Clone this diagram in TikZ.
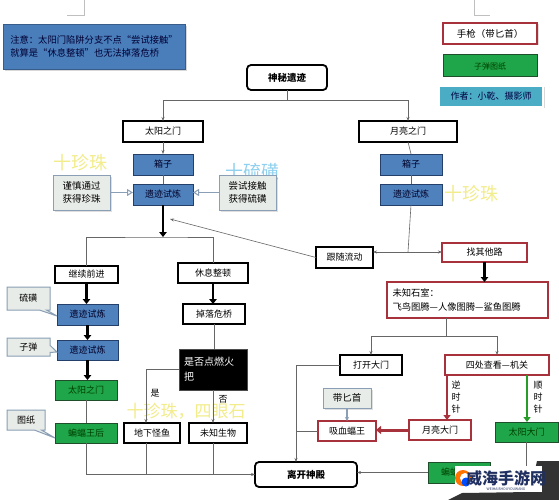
\documentclass[tikz,border=0pt]{standalone}
\usepackage{fontspec}
\setmainfont{Noto Sans CJK SC}
\usetikzlibrary{arrows.meta,shapes.callouts,shadows}
\definecolor{noteblue}{HTML}{4A7EBB}
\definecolor{noteline}{HTML}{385D8A}
\definecolor{boxblue}{HTML}{4F81BD}
\definecolor{boxline}{HTML}{24406A}
\definecolor{gfill}{HTML}{1FA64A}
\definecolor{gline}{HTML}{1E4E2A}
\definecolor{rline}{HTML}{A8323C}
\definecolor{cfill}{HTML}{E8ECE8}
\definecolor{cline}{HTML}{8A9FB5}
\definecolor{lblue}{HTML}{4BACC6}
\definecolor{pyellow}{HTML}{F2EC8A}
\definecolor{pcyan}{HTML}{8ED0EE}
\definecolor{wmblue}{HTML}{1F2F5F}
\newcommand\mkbox[7]{\node[#6, minimum width={(#4-#2)*1pt}, minimum height={(#5-#3)*1pt}] (#1) at ({(#2+#4)/2},{(#3+#5)/2}) {#7};}
\begin{document}
\begin{tikzpicture}[x=1pt,y=-1pt,
  base/.style={draw, inner sep=0pt, outer sep=0pt, font=\fontsize{9}{11}\selectfont, align=center},
  wbox/.style={base, fill=white, line width=1.2pt},
  wthick/.style={base, fill=white, line width=1.8pt},
  blbox/.style={base, fill=boxblue, draw=boxline, line width=1pt, text=black!85!blue},
  grbox/.style={base, fill=gfill, draw=gline, line width=1pt, text=green!25!black},
  rdbox/.style={base, fill=white, draw=rline, line width=1.3pt},
  cbox/.style={base, fill=cfill, draw=cline, line width=1pt, drop shadow={opacity=0.25, shadow xshift=1.5pt, shadow yshift=-1.5pt}},
  clout/.style={base, rectangle callout, fill=cfill, draw=cline, line width=1pt},
  ttl/.style={base, fill=white, line width=1.8pt, rounded corners=4pt, font=\fontsize{9.5}{11}\selectfont\bfseries},
  ln/.style={draw=black!60, line width=0.6pt},
  arr/.style={-{Stealth[length=4pt,width=3pt]}},
  thk/.style={draw=black, line width=2.6pt, -{Triangle[length=5pt,width=7.5pt]}},
  opena/.style={draw=cline, line width=1.3pt, -{Triangle[open,length=6pt,width=7pt,line width=1pt]}},
  bigtxt/.style={font=\fontsize{18}{19}\selectfont, inner sep=0pt},
  lbl/.style={font=\fontsize{9}{12}\selectfont, inner sep=0pt, align=center}]
\useasboundingbox[fill=white] (0,0) rectangle (559,500);
% fragments at top
\draw[black!25, line width=0.6pt] (67,15) -- (84,15) -- (84,0);
\draw[black!25, line width=0.6pt] (474,0) -- (474,15) -- (490,15);
% faint background texts
\node[bigtxt, text=pyellow] (ty1) at (80,163) {十珍珠};
\node[bigtxt, text=pcyan] (tc1) at (252,172) {十硫磺};
\node[bigtxt, text=pyellow] (ty2) at (471,194) {十珍珠};
\node[bigtxt, text=pyellow, font=\fontsize{17}{18}\selectfont] (ty3) at (186,411) {十珍珠，四眼石};
% note
\mkbox{note}{3}{24}{185}{69}{base, fill=noteblue, draw=noteline, line width=0.8pt, text=black!80!blue, align=left, font=\fontsize{9.3}{13}\selectfont, drop shadow={opacity=0.3, shadow xshift=2pt, shadow yshift=-2pt}}{注意：太阳门陷阱分支不点“尝试接触”\\就算是“休息整顿”也无法掉落危桥}
% legend
\mkbox{gun}{443}{23}{537}{44}{base, fill=white, draw=rline, line width=1.3pt, font=\fontsize{9.5}{11}\selectfont, drop shadow={opacity=0.25, shadow xshift=1.5pt, shadow yshift=-1.5pt}}{手枪（带匕首）}
\mkbox{bul}{443}{55}{537}{77}{grbox, font=\fontsize{8}{10}\selectfont}{子弹图纸}
\mkbox{auth}{439}{86}{543}{107}{base, fill=lblue, draw=white, line width=1.5pt, text=black!75!blue, font=\fontsize{9}{11}\selectfont, drop shadow={opacity=0.3, shadow xshift=1.5pt, shadow yshift=-1.5pt}}{作者：小乾、摄影师}
% main boxes
\mkbox{mys}{247}{65}{327}{90}{ttl}{神秘遗迹}
\mkbox{sun}{123}{121}{203}{142}{wbox}{太阳之门}
\mkbox{moon}{359}{121}{457}{142}{wthick}{月亮之门}
\mkbox{box1}{133}{154}{193}{175}{blbox}{箱子}
\mkbox{tr1}{133}{184}{193}{205}{blbox}{遗迹试炼}
\mkbox{box2}{380}{154}{442}{175}{blbox}{箱子}
\mkbox{tr2}{380}{184}{442}{205}{blbox}{遗迹试炼}
\mkbox{nl}{53}{175}{110}{210}{cbox, font=\fontsize{9.5}{13}\selectfont}{谨慎通过\\获得珍珠}
\mkbox{nr}{219}{175}{276}{210}{cbox, font=\fontsize{9.5}{13}\selectfont}{尝试接触\\获得硫磺}
\mkbox{cont}{55}{266}{118}{283}{wbox}{继续前进}
\mkbox{rest}{178}{263}{248}{283}{wbox}{休息整顿}
\mkbox{follow}{316}{247}{373}{268}{wbox}{跟随流动}
\mkbox{other}{442}{243}{527}{262}{rdbox}{找其他路}
\mkbox{room}{387}{282}{548}{318}{rdbox, align=left, text width=150pt, inner xsep=5.5pt, font=\fontsize{9.3}{14}\selectfont}{未知石室：\\飞鸟图腾—人像图腾—鲨鱼图腾}
\mkbox{open}{340}{355}{402}{375}{base, fill=white, line width=1.6pt}{打开大门}
\mkbox{look}{445}{355}{549}{375}{rdbox}{四处查看—机关}
\mkbox{mdoor}{409}{420}{471}{440}{rdbox}{月亮大门}
\mkbox{vamp}{318}{421}{376}{441}{rdbox}{吸血蝠王}
\mkbox{dagger}{323}{388}{371}{408}{cbox, font=\fontsize{9.5}{11}\selectfont}{带匕首}
\mkbox{sdoor}{495}{422}{558}{442}{grbox}{太阳大门}
\mkbox{bq}{428}{462}{490}{483}{grbox}{蝙蝠王后}
\mkbox{exit}{255}{462}{357}{487}{ttl}{离开神殿}
\mkbox{lt1}{57}{304}{118}{325}{blbox}{遗迹试炼}
\mkbox{lt2}{57}{340}{118}{360}{blbox}{遗迹试炼}
\mkbox{gsun}{55}{380}{117}{400}{grbox}{太阳之门}
\mkbox{gbat}{55}{423}{117}{443}{grbox}{蝙蝠王后}
\mkbox{fall}{183}{304}{245}{324}{wbox}{掉落危桥}
\mkbox{torch}{179}{349}{247}{390}{base, fill=black, draw=black!70, text=white, align=left, text width=58pt, inner xsep=5pt, font=\fontsize{10}{15}\selectfont}{是否点燃火\\把}
\mkbox{fish}{124}{423}{180}{443}{base, fill=white, line width=1.6pt}{地下怪鱼}
\mkbox{unk}{189}{423}{247}{443}{base, fill=white, line width=1.6pt}{未知生物}
% callouts
\mkbox{c1}{7}{287}{50}{310}{clout, callout absolute pointer={(57,316)}}{硫磺}
\mkbox{c2}{7}{338}{50}{356}{clout, callout absolute pointer={(57,352)}}{子弹}
\mkbox{c3}{7}{410}{45}{430}{clout, callout absolute pointer={(55,438)}}{图纸}
% connectors top
\coordinate (j1) at (287,100);
\draw[ln] (mys.south) -- (j1);
\draw[ln,arr] (j1) -| (sun.north);
\draw[ln,arr] (j1) -| (moon.north);
\draw[ln,arr] (sun.south) -- (box1.north);
\draw[ln] (box1.south) -- (tr1.north);
\draw[opena] (nl.east) -- (nl.east -| tr1.west);
\draw[opena] (nr.west) -- (nr.west -| tr1.east);
\coordinate (j2) at (163,237);
\draw[thk] (tr1.south) -- (j2);
\draw[ln] (cont.north) |- (j2) -| (rest.north);
\coordinate (fa) at (170,219);
\draw[ln,arr] (follow.west) -- (fa);
% moon column
\draw[ln] (moon.south) -- (box2.north);
\draw[ln] (box2.south) -- (tr2.north);
\coordinate (j3) at (408,252);
\draw[ln] (tr2.south) -- (j3);
\draw[ln,arr] (j3) -- (j3 -| follow.east);
\draw[ln,arr] (j3) -- (j3 -| other.west);
\draw[thk] (other.south) -- (other.south |- room.north);
\coordinate (j4) at (446,336);
\draw[ln] (j4 |- room.south) -- (j4);
\draw[ln,arr] (j4) -| (open.north);
\draw[ln,arr] (j4) -| (look.north);
% right lower
\draw[draw=rline, line width=2.6pt, -{Triangle[length=5pt,width=7pt]}] ([xshift=2pt]look.south west) -- ([xshift=2pt]look.south west |- mdoor.north);
\draw[draw=green!55!black!85, line width=2.6pt, -{Triangle[length=5pt,width=7pt]}] ([xshift=-22pt]look.south east) -- ([xshift=-22pt]look.south east |- sdoor.north);
\node[lbl] (lab1) at (456,397) {逆\\时\\针};
\node[lbl] (lab2) at (538,397) {顺\\时\\针};
\draw[draw=rline, line width=3pt, -{Triangle[length=5pt,width=8pt]}] (mdoor.west) -- (mdoor.west -| vamp.east);
\draw[draw=cline, line width=1.2pt, -{Stealth[length=4pt,width=4pt]}] (dagger.south) -- (dagger.south |- vamp.north);
\coordinate (j5) at (296,431);
\draw[ln] (vamp.west) -- (vamp.west -| j5);
\draw[ln,arr] (open.west) -| ([xshift=-10pt]exit.north);
\draw[ln] (sdoor.south) |- (bq.east);
\draw[ln,arr] (bq.west) -- (bq.west -| exit.east);
% left column
\draw[thk] (cont.south) -- (cont.south |- lt1.north);
\draw[thk] (lt1.south) -- (lt1.south |- lt2.north);
\draw[thk] (lt2.south) -- (lt2.south |- gsun.north);
\draw[ln] (gsun.south) -- (gbat.north);
\draw[ln,arr] (gbat.south) |- (exit.west);
\draw[thk] (rest.south) -- (rest.south |- fall.north);
\draw[ln] (fall.south) -- (fall.south |- torch.north);
\draw[ln,arr] (torch.west) -| ([xshift=-6pt]fish.north);
\draw[ln,arr] (torch.south) -- (torch.south |- unk.north);
\node[lbl] (yes) at (155,393) {是};
\node[lbl] (no) at (223,399) {否};
\draw[ln] ([xshift=-6pt]fish.south) -- ([xshift=-6pt]fish.south |- exit.west);
\draw[ln] ([xshift=-5pt]unk.south) -- ([xshift=-5pt]unk.south |- exit.west);
% watermark
\fill[black!80] (537,461) -- (559,461) -- (559,500) -- (448,500) -- (462,493) -- (530,492) -- cycle;
\fill[white] (455,466) rectangle (542,492);
\fill[orange!90!red] (463,478) circle (8);
\fill[white] (465,478) circle (5);
\fill[blue!70!cyan] (466,482) circle (4.5);
\node[font=\fontsize{16}{17}\selectfont\bfseries, text=wmblue, inner sep=0pt] (wm) at (506,478) {威海手游网};
\node[font=\fontsize{3.5}{4}\selectfont, text=wmblue, inner sep=0pt] (wm2) at (506,489) {WEIHAISHOUYOUWANG};
\end{tikzpicture}
\end{document}
